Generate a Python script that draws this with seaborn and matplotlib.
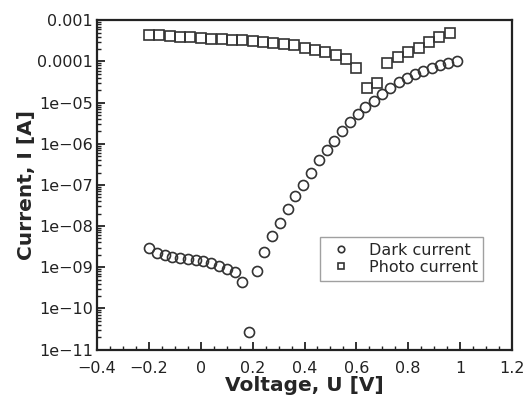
import numpy as np
import pandas as pd
import matplotlib
matplotlib.use('Agg')
import matplotlib.pyplot as plt
import seaborn as sns
from matplotlib.ticker import FixedLocator, FixedFormatter, LogLocator, NullFormatter, MultipleLocator

# dark current (circles)
dark_v = [-0.20, -0.17, -0.14, -0.11, -0.08, -0.05, -0.02, 0.01, 0.04, 0.07, 0.10, 0.13, 0.16,
          0.185, 0.215, 0.245, 0.275, 0.305, 0.335, 0.365, 0.395, 0.425, 0.455, 0.485, 0.515,
          0.545, 0.575, 0.605, 0.635,
          0.667, 0.699, 0.731, 0.763, 0.795, 0.827, 0.859, 0.891, 0.923, 0.955, 0.987]
dark_i = [3.0e-9, 2.2e-9, 2.0e-9, 1.8e-9, 1.7e-9, 1.6e-9, 1.5e-9, 1.4e-9, 1.25e-9, 1.05e-9, 9.0e-10, 7.5e-10, 4.3e-10,
          2.7e-11, 8.2e-10, 2.4e-9, 5.6e-9, 1.2e-8, 2.6e-8, 5.3e-8, 1.0e-7, 2.0e-7, 4.0e-7, 7.1e-7, 1.2e-6,
          2.0e-6, 3.4e-6, 5.2e-6, 8.0e-6,
          1.1e-5, 1.6e-5, 2.3e-5, 3.1e-5, 3.9e-5, 4.9e-5, 5.9e-5, 7.0e-5, 8.0e-5, 9.0e-5, 1.0e-4]

# photo current (squares)
photo_v = [-0.20, -0.16, -0.12, -0.08, -0.04, 0.00, 0.04, 0.08, 0.12, 0.16, 0.20, 0.24, 0.28, 0.32, 0.36,
           0.40, 0.44, 0.48, 0.52, 0.56, 0.60, 0.64, 0.68, 0.72, 0.76, 0.80, 0.84, 0.88, 0.92, 0.96]
photo_i = [4.5e-4, 4.3e-4, 4.1e-4, 4.0e-4, 3.9e-4, 3.75e-4, 3.55e-4, 3.45e-4, 3.35e-4, 3.25e-4, 3.1e-4, 3.0e-4,
           2.8e-4, 2.6e-4, 2.45e-4, 2.1e-4, 1.9e-4, 1.67e-4, 1.44e-4, 1.15e-4, 6.8e-5, 2.3e-5, 3.0e-5,
           9.0e-5, 1.26e-4, 1.67e-4, 2.15e-4, 2.9e-4, 3.9e-4, 4.9e-4]

x_ticks = [-0.4, -0.2, 0, 0.2, 0.4, 0.6, 0.8, 1.0, 1.2]
x_labels = ['\u22120.4', '\u22120.2', '0', '0.2', '0.4', '0.6', '0.8', '1', '1.2']
y_ticks = [1e-11, 1e-10, 1e-9, 1e-8, 1e-7, 1e-6, 1e-5, 1e-4, 1e-3]
y_labels = ['1e\u221211', '1e\u221210', '1e\u221209', '1e\u221208', '1e\u221207', '1e\u221206',
            '1e\u221205', '0.0001', '0.001']

dark = pd.DataFrame({'U': dark_v, 'I': dark_i})
photo = pd.DataFrame({'U': photo_v, 'I': photo_i})

sns.set_style('white')
plt.rcParams['font.family'] = ['DejaVu Sans']

fig = plt.figure(figsize=(5.25, 3.99), dpi=100)
ax = fig.add_axes([0.185, 0.124, 0.790, 0.825])

edge = '#333333'
sns.lineplot(data=dark, x='U', y='I', ax=ax, marker='o', linestyle='', markersize=7.2,
             mfc='none', mec=edge, mew=1.2, label='Dark current')
sns.lineplot(data=photo, x='U', y='I', ax=ax, marker='s', linestyle='', markersize=7.2,
             mfc='none', mec=edge, mew=1.2, label='Photo current')

ax.set_yscale('log')
ax.set_xlim(-0.4, 1.2)
ax.set_ylim(1e-11, 1e-3)

ax.xaxis.set_major_locator(FixedLocator(x_ticks))
ax.xaxis.set_major_formatter(FixedFormatter(x_labels))
ax.xaxis.set_minor_locator(MultipleLocator(0.05))
ax.yaxis.set_major_locator(FixedLocator(y_ticks))
ax.yaxis.set_major_formatter(FixedFormatter(y_labels))
ax.yaxis.set_minor_locator(LogLocator(base=10, subs=np.arange(2, 10), numticks=20))
ax.yaxis.set_minor_formatter(NullFormatter())

ax.tick_params(which='both', direction='in', bottom=True, left=True, top=False, right=False,
               colors='#222222', labelsize=11.5, labelcolor='#222222')
ax.tick_params(axis='y', pad=3)
ax.tick_params(axis='x', pad=8)
ax.tick_params(which='major', length=6, width=1.3)
ax.tick_params(which='minor', length=3, width=1.0)
for s in ax.spines.values():
    s.set_linewidth(1.6)
    s.set_color('#222222')

ax.set_xlabel('Voltage, U [V]', fontsize=14.5, fontweight='bold', labelpad=0)
ax.set_ylabel('Current, I [A]', fontsize=14.5, fontweight='bold', labelpad=1)

leg = ax.legend(loc='lower right', bbox_to_anchor=(0.95, 0.185), fontsize=11.5, markerscale=0.65,
                frameon=True, fancybox=False, handletextpad=0.7, borderpad=0.35, labelspacing=0.15)
leg.get_frame().set_edgecolor('#888888')
leg.get_frame().set_linewidth(1.0)

fig.savefig('out.png', dpi=100)
